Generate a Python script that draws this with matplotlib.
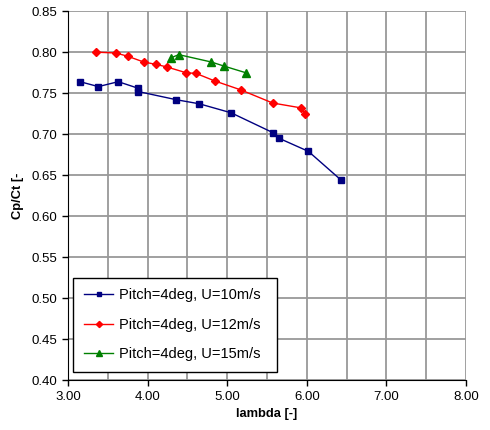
import matplotlib
matplotlib.use("agg")
import matplotlib.pyplot as plt
from matplotlib.ticker import MultipleLocator

plt.rcParams['font.family'] = ['Liberation Sans', 'DejaVu Sans']

# U=10m/s
lam_10 = [3.15, 3.38, 3.63, 3.88, 3.88, 4.36, 4.65, 5.05, 5.57, 5.65, 6.02, 6.43]
cp_10 = [0.764, 0.758, 0.764, 0.756, 0.752, 0.742, 0.737, 0.726, 0.702, 0.695, 0.679, 0.644]
# U=12m/s
lam_12 = [3.35, 3.60, 3.75, 3.95, 4.11, 4.24, 4.48, 4.61, 4.84, 5.17, 5.57, 5.93, 5.98]
cp_12 = [0.800, 0.799, 0.795, 0.788, 0.785, 0.782, 0.775, 0.774, 0.765, 0.754, 0.738, 0.732, 0.724]
# U=15m/s
lam_15 = [4.29, 4.39, 4.80, 4.96, 5.23]
cp_15 = [0.793, 0.797, 0.788, 0.783, 0.775]

labels = ["Pitch=4deg, U=10m/s", "Pitch=4deg, U=12m/s", "Pitch=4deg, U=15m/s"]

fig = plt.figure(figsize=(4.9, 4.3), dpi=100)
ax = fig.add_axes([0.139, 0.116, 0.812, 0.858])

ax.plot(lam_10, cp_10, color="#000080", marker="s", markersize=5, linewidth=1, label=labels[0])
ax.plot(lam_12, cp_12, color="#ff0000", marker="D", markersize=4.5, linewidth=1, label=labels[1])
ax.plot(lam_15, cp_15, color="#008000", marker="^", markersize=5.5, linewidth=1, label=labels[2])

ax.set_xlim(3, 8)
ax.set_ylim(0.40, 0.85)
ax.xaxis.set_major_locator(MultipleLocator(1))
ax.xaxis.set_minor_locator(MultipleLocator(0.5))
ax.yaxis.set_major_locator(MultipleLocator(0.05))
ax.xaxis.set_major_formatter(matplotlib.ticker.FormatStrFormatter("%.2f"))
ax.yaxis.set_major_formatter(matplotlib.ticker.FormatStrFormatter("%.2f"))
ax.grid(True, which="both", color="#999999", linewidth=1.3)
ax.set_axisbelow(True)
ax.tick_params(axis="x", which="minor", length=0)
ax.tick_params(axis="both", which="major", direction="out", length=4, labelsize=9.5, width=1)

for s in ["top", "right"]:
    ax.spines[s].set_visible(False)

ax.set_xlabel("lambda [-]", fontsize=9.3, fontweight="bold", labelpad=4)
ax.set_ylabel("Cp/Ct [-", fontsize=9.3, fontweight="bold", labelpad=6)

leg = ax.legend(loc="lower left", bbox_to_anchor=(0.0126, 0.022, 0.513, 0.26), mode="expand",
                fontsize=10.5, fancybox=False, framealpha=1, edgecolor="black",
                handlelength=2.0, handletextpad=0.4, borderpad=0.75, labelspacing=1.05,
                markerscale=0.7, borderaxespad=0)
leg.get_frame().set_linewidth(1)

plt.savefig("out.png", dpi=100)
